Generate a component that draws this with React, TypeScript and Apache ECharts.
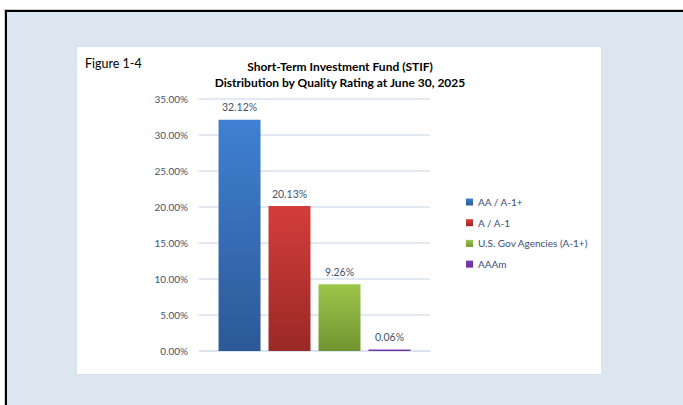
import React, { useEffect, useRef } from "react";
import * as echarts from "echarts";

const seriesNames = ["AA / A-1+", "A / A-1", "U.S. Gov Agencies (A-1+)", "AAAm"];
const seriesValues = [32.12, 20.13, 9.26, 0.06];
const categories = ["Quality Rating"];
const yTicks = { min: 0, max: 35, interval: 5 };

const gradients = [
  ["#3f80d2", "#2c5996"],
  ["#d33d3a", "#9a2927"],
  ["#9dc64b", "#719431"],
  ["#7a3fb0", "#6a2f9c"],
];

export default function App() {
  const ref = useRef<HTMLDivElement>(null);
  useEffect(() => {
    if (!ref.current) return;
    const chart = echarts.init(ref.current, null, { renderer: "svg" });
    const font = "Lato, 'Liberation Sans', sans-serif";
    chart.setOption({
      animation: false,
      backgroundColor: "transparent",
      textStyle: { fontFamily: font },
      title: {
        text: "Short-Term Investment Fund (STIF)\nDistribution by Quality Rating at June 30, 2025",
        left: 340,
        top: 58,
        padding: 0,
        textAlign: "center",
        textStyle: { fontSize: 12, fontWeight: "bold", color: "#000", lineHeight: 16, fontFamily: font },
      },
      graphic: [
        {
          type: "text",
          left: 85,
          top: 57,
          style: { text: "Figure 1-4", fontSize: 12.5, fill: "#000", fontFamily: font },
        },
      ],
      legend: {
        orient: "vertical",
        left: 466,
        top: 195,
        padding: 0,
        icon: "rect",
        itemWidth: 7,
        itemHeight: 7,
        itemGap: 6.7,
        textStyle: { fontSize: 10, color: "#3b4f6f", lineHeight: 14, fontFamily: font },
        data: seriesNames,
      },
      grid: { left: 199, right: 253, top: 99, bottom: 54 },
      xAxis: {
        type: "category",
        data: categories,
        axisLabel: { show: false },
        axisTick: { show: false },
        axisLine: { show: true, lineStyle: { color: "#d9e2f0", width: 1.5 } },
      },
      yAxis: {
        type: "value",
        min: yTicks.min,
        max: yTicks.max,
        interval: yTicks.interval,
        axisLabel: {
          formatter: (v: number) => v.toFixed(2) + "%",
          fontSize: 10,
          color: "#44546a",
          margin: 11,
          fontFamily: font,
        },
        axisLine: { show: false },
        axisTick: { show: false },
        splitLine: { lineStyle: { color: "#d9e2f0", width: 1.5 } },
      },
      series: seriesNames.map((name, i) => ({
        name,
        type: "bar",
        data: [seriesValues[i]],
        barWidth: 42,
        barGap: "19%",
        barMinHeight: i === 3 ? 1.5 : 0,
        itemStyle: {
          color: new echarts.graphic.LinearGradient(0, 0, 0, 1, [
            { offset: 0, color: gradients[i][0] },
            { offset: 1, color: gradients[i][1] },
          ]),
        },
        label: {
          show: true,
          position: "top",
          distance: 7,
          formatter: (p: any) => p.value.toFixed(2) + "%",
          fontSize: 10.5,
          color: "#44546a",
          fontFamily: font,
        },
      })),
    });
    return () => chart.dispose();
  }, []);

  return (
    <div style={{ position: "fixed", left: 0, top: 0, width: 683, height: 405, background: "#fff", overflow: "hidden" }}>
      <div
        style={{
          position: "absolute",
          left: 4,
          top: 9,
          width: 700,
          height: 420,
          background: "#c8c8c8",
        }}
      />
      <div
        style={{
          position: "absolute",
          left: 5,
          top: 10,
          width: 700,
          height: 420,
          background: "#000",
        }}
      />
      <div
        style={{
          position: "absolute",
          left: 7,
          top: 12,
          width: 700,
          height: 420,
          background: "#dce6f1",
        }}
      />
      <div
        style={{
          position: "absolute",
          left: 77,
          top: 47,
          width: 524,
          height: 327,
          background: "#fff",
          boxShadow: "0 0 1px #c9d6e6",
        }}
      />
      <div ref={ref} style={{ position: "absolute", left: 0, top: 0, width: 683, height: 405 }} />
    </div>
  );
}
